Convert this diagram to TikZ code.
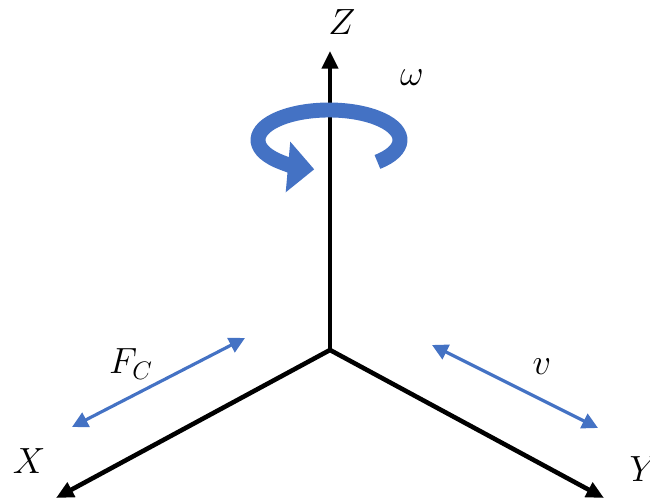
\documentclass[tikz,border=0pt]{standalone}
\usepackage{amsmath,amssymb}
\usepackage{tikz}
\usetikzlibrary{arrows.meta,positioning,calc}
\definecolor{rotA}{HTML}{4472C4}

\begin{document}
\begin{tikzpicture}[every node/.style={font=\huge},
  axis/.style={line width=2.6pt,-{Triangle[length=10pt,width=9pt]}},
  quant/.style={rotA,line width=1.8pt,{Triangle[length=9pt,width=9pt]}-{Triangle[length=9pt,width=9pt]}}]
  \useasboundingbox (0,0) rectangle (13,10);
  % the three axes
  \coordinate (O) at (6.6,3.0);
  \coordinate (zend) at (6.6,8.98);
  \coordinate (xend) at (1.12,0.04);
  \coordinate (yend) at (12.08,0.04);
  \draw[axis] (O) -- (zend);
  \draw[axis] (O) -- (xend);
  \draw[axis] (O) -- (yend);
  \node (zlab) at (6.84,9.55) {$Z$};
  \node (xlab) at (0.58,0.78) {$X$};
  \node (ylab) at (12.88,0.62) {$Y$};
  % rotation about Z
  \draw[rotA,line width=8.5pt,-{Triangle[length=15pt,width=28pt]}]
    ($(6.58,7.2)+(-47:1.42 and 0.6)$) arc[start angle=-47,end angle=258,x radius=1.42,y radius=0.6];
  \node (wlab) at (8.24,8.44) {$\omega$};
  % force and velocity
  \coordinate (fa) at (4.9,3.24);
  \coordinate (fb) at (1.44,1.46);
  \coordinate (va) at (8.64,3.1);
  \coordinate (vb) at (11.96,1.44);
  \draw[quant] (fb) -- (fa);
  \draw[quant] (va) -- (vb);
  \node (flab) at (2.62,2.72) {$F_C$};
  \node (vlab) at (10.84,2.66) {$v$};
\end{tikzpicture}
\end{document}
